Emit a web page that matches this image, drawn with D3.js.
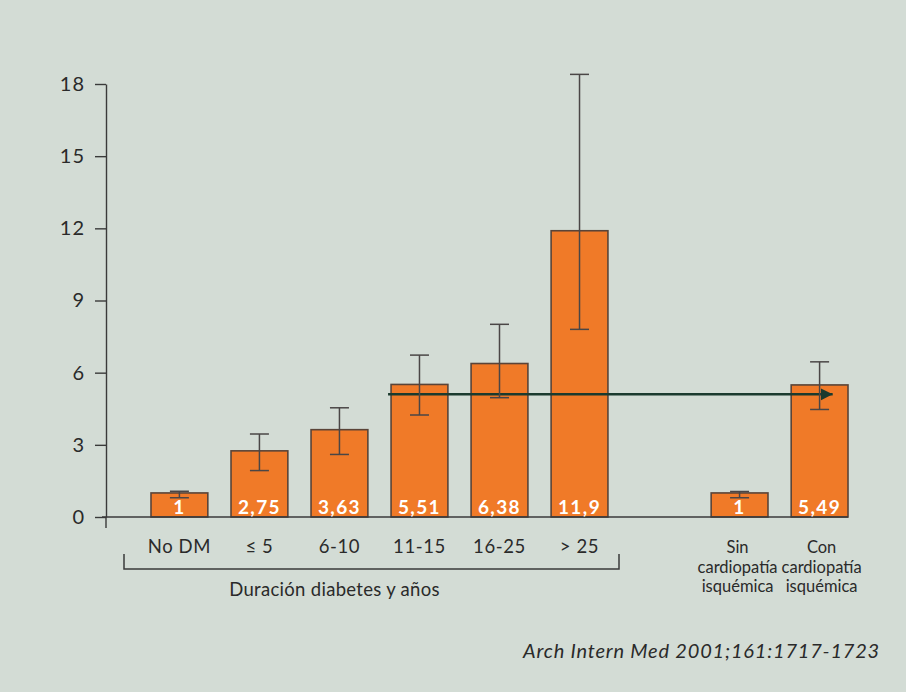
<!DOCTYPE html>
<html>
<head>
<meta charset="utf-8">
<script src="https://cdn.jsdelivr.net/npm/d3@7"></script>
<style>
  html, body { margin: 0; padding: 0; background: #d3dcd5; }
  svg { display: block; }
  text { font-family: Lato, "Open Sans", sans-serif; fill: #2a2a2a; }
</style>
</head>
<body>
<svg id="chart" width="906" height="692"></svg>
<script>
// Relative risk by diabetes duration and by prior ischaemic heart disease
const durationCats = ["No DM", "≤ 5", "6-10", "11-15", "16-25", "> 25"];
const chdCats = ["Sin", "Con"];
const chdLabelLines = [["Sin", "cardiopatía", "isquémica"], ["Con", "cardiopatía", "isquémica"]];
const values = [1, 2.75, 3.63, 5.51, 6.38, 11.9, 1, 5.49];
const valueLabels = ["1", "2,75", "3,63", "5,51", "6,38", "11,9", "1", "5,49"];
const ciLower = [0.8, 1.93, 2.6, 4.24, 4.96, 7.8, 0.8, 4.47];
const ciUpper = [1.07, 3.45, 4.54, 6.73, 8.01, 18.4, 1.06, 6.45];
const yTicks = [0, 3, 6, 9, 12, 15, 18];
const groupLabel = "Duración diabetes y años";
const arrowValue = 5.1;
const source = "Arch Intern Med 2001;161:1717-1723";

const svg = d3.select("#chart");
const GAP = "_gap";
const slots = [...durationCats, GAP, ...chdCats];
const allCats = [...durationCats, ...chdCats];

const x = d3.scaleBand().domain(slots).range([151, 848]).paddingInner(0.29).paddingOuter(0);
const y = d3.scaleLinear().domain([0, 18]).range([517, 84]);

const bars = allCats.map((c, i) => ({
  cat: c, value: values[i], label: valueLabels[i], lo: ciLower[i], hi: ciUpper[i]
}));

// background
svg.append("rect").attr("width", 906).attr("height", 692).attr("fill", "#d3dcd5");

// y axis
const yAxis = svg.append("g")
  .attr("transform", "translate(106,0)")
  .call(d3.axisLeft(y).tickValues(yTicks).tickSize(11).tickSizeOuter(0).tickPadding(10));
yAxis.select(".domain").attr("stroke", "#3a3a3a").attr("stroke-width", 1.4);
yAxis.selectAll(".tick line").attr("stroke", "#3a3a3a").attr("stroke-width", 1.4);
yAxis.selectAll(".tick text")
  .attr("font-size", 20).attr("letter-spacing", 1)
  .attr("font-family", "Lato, sans-serif").attr("fill", "#2a2a2a");
// axis continues a little below the baseline
svg.append("line").attr("x1", 106).attr("x2", 106).attr("y1", y(0)).attr("y2", y(0) + 11)
  .attr("stroke", "#3a3a3a").attr("stroke-width", 1.4);

// bars
svg.append("g").selectAll("rect").data(bars).join("rect")
  .attr("x", d => x(d.cat))
  .attr("y", d => y(d.value))
  .attr("width", x.bandwidth())
  .attr("height", d => y(0) - y(d.value))
  .attr("fill", "#f07a28")
  .attr("stroke", "#5a4438")
  .attr("stroke-width", 1.6);

// baseline
svg.append("line").attr("x1", 102).attr("x2", x("Con") + x.bandwidth())
  .attr("y1", y(0)).attr("y2", y(0))
  .attr("stroke", "#3a3a3a").attr("stroke-width", 1.6);

// arrow linking the duration series with the CHD comparison
svg.append("defs").append("marker")
  .attr("id", "head").attr("viewBox", "0 0 10 10")
  .attr("refX", 10).attr("refY", 5)
  .attr("markerWidth", 12).attr("markerHeight", 14)
  .attr("markerUnits", "userSpaceOnUse")
  .attr("orient", "auto")
  .append("path").attr("d", "M0,0 L10,5 L0,10 Z").attr("fill", "#1b3a2e");
svg.append("line")
  .attr("x1", x("11-15") - 3).attr("x2", x("Con") + x.bandwidth() * 0.73)
  .attr("y1", y(arrowValue)).attr("y2", y(arrowValue))
  .attr("stroke", "#1b3a2e").attr("stroke-width", 2.4)
  .attr("marker-end", "url(#head)");

// confidence intervals
const cap = 9.5;
const eb = svg.append("g").attr("stroke", "#4a4646").attr("stroke-width", 1.5);
bars.forEach(d => {
  const cx = x(d.cat) + x.bandwidth() / 2;
  eb.append("line").attr("x1", cx).attr("x2", cx).attr("y1", y(d.lo)).attr("y2", y(d.hi));
  eb.append("line").attr("x1", cx - cap).attr("x2", cx + cap).attr("y1", y(d.hi)).attr("y2", y(d.hi));
  eb.append("line").attr("x1", cx - cap).attr("x2", cx + cap).attr("y1", y(d.lo)).attr("y2", y(d.lo));
});

// value labels inside bars
svg.append("g").selectAll("text").data(bars).join("text")
  .attr("x", d => x(d.cat) + x.bandwidth() / 2)
  .attr("y", y(0) - 3)
  .attr("text-anchor", "middle")
  .attr("font-size", 19).attr("font-weight", 700)
  .attr("letter-spacing", 1.4)
  .style("fill", "#ffffff")
  .text(d => d.label);

// category labels
svg.append("g").selectAll("text").data(durationCats).join("text")
  .attr("x", d => x(d) + x.bandwidth() / 2)
  .attr("y", 553)
  .attr("text-anchor", "middle")
  .attr("font-size", 18.5).attr("letter-spacing", 0.6)
  .text(d => d);

chdCats.forEach((c, i) => {
  const cx = x(c) + x.bandwidth() / 2 + (i === 0 ? -2 : 2);
  const t = svg.append("text")
    .attr("x", cx)
    .attr("y", 553)
    .attr("text-anchor", "middle")
    .attr("font-size", 16.5);
  chdLabelLines[i].forEach((line, j) => {
    t.append("tspan").attr("x", cx).attr("dy", j === 0 ? 0 : 19.5).text(line);
  });
});

// bracket under the duration group
const bx0 = 124, bx1 = 619, by = 569;
svg.append("path")
  .attr("d", `M${bx0},${by - 15} V${by} H${bx1} V${by - 15}`)
  .attr("fill", "none").attr("stroke", "#3a3a3a").attr("stroke-width", 1.5);
svg.append("text")
  .attr("x", (bx0 + bx1) / 2 - 37).attr("y", 596)
  .attr("text-anchor", "middle").attr("font-size", 18.5).attr("letter-spacing", 0.3)
  .text(groupLabel);

// source
svg.append("text")
  .attr("x", 880).attr("y", 658)
  .attr("text-anchor", "end")
  .attr("font-size", 20).attr("font-style", "italic").attr("letter-spacing", 0.8)
  .text(source);
</script>
</body>
</html>
